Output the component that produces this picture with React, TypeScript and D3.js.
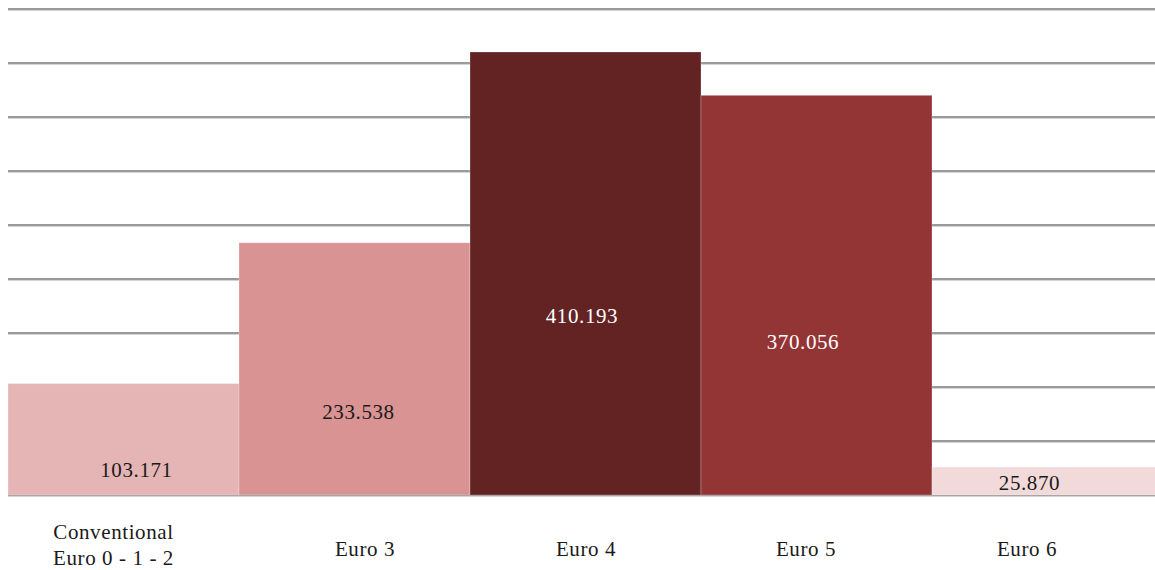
import React from "react";
import * as d3 from "d3";

const categories: string[][] = [["Conventional", "Euro 0 - 1 - 2"], ["Euro 3"], ["Euro 4"], ["Euro 5"], ["Euro 6"]];
const values: number[] = [103.171, 233.538, 410.193, 370.056, 25.87];
const valueLabels: string[] = ["103.171", "233.538", "410.193", "370.056", "25.870"];
const labelAt: number[] = [16.7, 70, 159, 135, 4.6];
const barColors: string[] = ["#e5b5b5", "#d99393", "#642323", "#943535", "#f2dada"];
const labelColors: string[] = ["#1a1a1a", "#1a1a1a", "#ffffff", "#ffffff", "#1a1a1a"];
const gridTicks: number[] = d3.range(0, 451, 50);

// small horizontal nudges of labels relative to band centers (layout)
const valueDx: number[] = [13, 4, -3.5, -13.5, -18];
const catDx: number[] = [-10, 10.5, 0.5, -10.5, -20.5];

const W = 1155;
const H = 570;
const FONT = "'Liberation Serif', serif";
const FS = 21;
const LS = 0.6;

export default function App() {
  const x = d3.scaleBand<number>().domain(d3.range(values.length)).range([8, 1163]).padding(0);
  const y = d3.scaleLinear().domain([0, 450]).range([495, 9]);
  const cx = (i: number) => x(i)! + x.bandwidth() / 2;

  return (
    <svg width={W} height={H} style={{ position: "absolute", left: 0, top: 0, background: "#fff" }}>
      {gridTicks.map((t) => (
        <g key={t}>
          <line x1={8} x2={W} y1={y(t) + 1.5} y2={y(t) + 1.5} stroke="#d4d4d4" strokeWidth={1} />
          <line x1={8} x2={W} y1={y(t)} y2={y(t)} stroke="#9a9a9a" strokeWidth={2} />
        </g>
      ))}
      {values.map((v, i) => (
        <rect
          key={i}
          x={x(i)!}
          y={y(v)}
          width={x.bandwidth()}
          height={y(0) - y(v)}
          fill={barColors[i]}
          stroke="rgba(255,255,255,0.25)"
          strokeWidth={1}
        />
      ))}
      {values.map((v, i) => (
        <text
          key={"v" + i}
          x={cx(i) + valueDx[i]}
          y={y(labelAt[i])}
          textAnchor="middle"
          fontFamily={FONT}
          fontSize={FS}
          letterSpacing={LS}
          fill={labelColors[i]}
        >
          {valueLabels[i]}
        </text>
      ))}
      {categories.map((lines, i) => (
        <text
          key={"c" + i}
          textAnchor="middle"
          fontFamily={FONT}
          fontSize={FS}
          letterSpacing={LS}
          fill="#1a1a1a"
        >
          {lines.map((l, j) => (
            <tspan key={j} x={cx(i) + catDx[i]} y={lines.length === 1 ? 556 : 539 + j * 26}>
              {l}
            </tspan>
          ))}
        </text>
      ))}
    </svg>
  );
}
